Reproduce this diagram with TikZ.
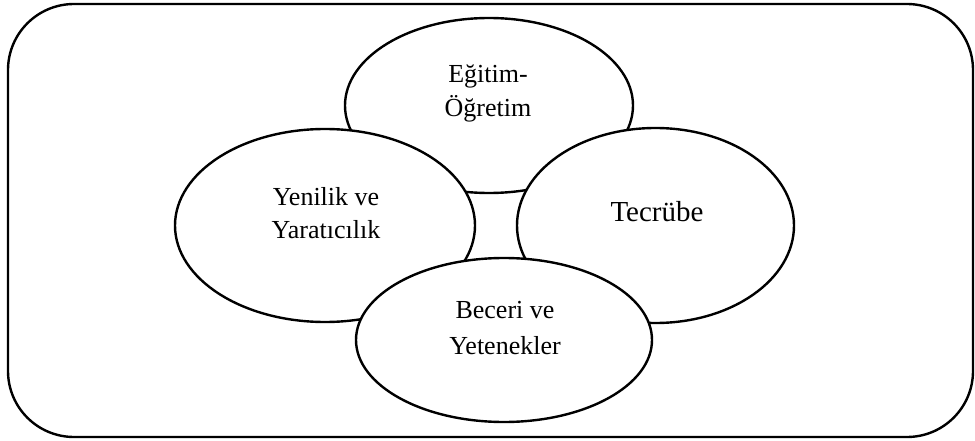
\documentclass[tikz,border=0pt]{standalone}
\usepackage{fontspec}
\setmainfont{Liberation Serif}
\usetikzlibrary{shapes.geometric}
\begin{document}
\begin{tikzpicture}[x=1pt,y=-1pt,
  oval/.style={ellipse,draw,fill=white,line width=2.4pt,inner sep=0pt},
  lbl/.style={anchor=base,inner sep=0pt,font=\fontsize{26}{34}\selectfont},
  lblbig/.style={anchor=base,inner sep=0pt,font=\fontsize{29}{36}\selectfont}]
\useasboundingbox (0,0) rectangle (975,441);
\draw[line width=2.4pt,rounded corners=66pt] (8,4) rectangle (973,437);
\node[oval,minimum width=288pt,minimum height=175pt] (egitim) at (489,105.5) {};
\node[oval,minimum width=300pt,minimum height=193pt] (yenilik) at (325,225.5) {};
\node[oval,minimum width=277pt,minimum height=195pt] (tecrube) at (655.5,225.5) {};
\node[oval,minimum width=296pt,minimum height=164pt] (beceri) at (504,340) {};
\node[lbl] (e1) at (488,83) {Eğitim-};
\node[lbl] (e2) at (488,117) {Öğretim};
\node[lbl] (y1) at (326,205) {Yenilik ve};
\node[lbl] (y2) at (326,238) {Yaratıcılık};
\node[lblbig] (t1) at (657,221) {Tecrübe};
\node[lbl] (b1) at (505,318) {Beceri ve};
\node[lbl] (b2) at (505,354) {Yetenekler};
\end{tikzpicture}
\end{document}
